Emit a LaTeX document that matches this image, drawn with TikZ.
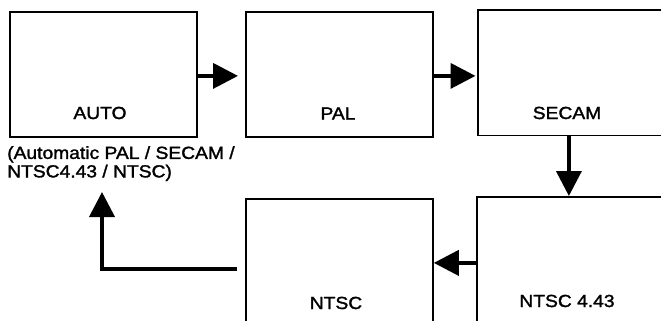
\documentclass[tikz,border=0pt]{standalone}
\usepackage{fontspec}
\setmainfont{Liberation Sans}[FakeStretch=1.1,FakeBold=1.6]
\usetikzlibrary{arrows.meta}
\begin{document}
\begin{tikzpicture}[x=1pt,y=-1pt,
  modebox/.style={draw,line width=1.8pt,minimum width=187pt,minimum height=125pt,inner sep=0pt,anchor=north west},
  modelabel/.style={anchor=base,inner sep=0pt,font=\fontsize{17.5}{19}\selectfont},
  arr/.style={line width=3.8pt,-{Triangle[length=25pt,width=25pt]}}]
\useasboundingbox (0,0) rectangle (661,321);
\clip (0,0) rectangle (661,321);
\node[modebox] (auto) at (9,11) {};
\node[modebox] (pal) at (245,11) {};
\node[modebox] (secam) at (477,9.5) {};
\node[modebox] (ntsc) at (245,198) {};
\node[modebox] (n443) at (476,196) {};
\node[modelabel] (autot) at (100,119) {AUTO};
\node[modelabel] (palt) at (338,119.5) {PAL};
\node[modelabel] (secamt) at (567,119) {SECAM};
\node[modelabel] (ntsct) at (336,309) {NTSC};
\node[modelabel] (n443t) at (567,307) {NTSC 4.43};
\node[anchor=north west,inner sep=0pt,align=left,font=\fontsize{17.5}{18.5}\selectfont] (cap) at (7,146) {(Automatic PAL / SECAM /\\NTSC4.43 / NTSC)};
\coordinate (tip) at (102,192);
\draw[arr,shorten >=7pt] ([yshift=-1.5pt]auto.east) -- ([yshift=-1.5pt]pal.west);
\draw[arr,shorten >=1.5pt] ([yshift=-1.5pt]pal.east) -- ([yshift=-3pt]secam.west);
\draw[arr] ([xshift=-2.5pt]secam.south) -- ([xshift=-1.5pt]n443.north);
\draw[arr] ([yshift=-3.5pt]n443.west) -- ([yshift=-1.5pt]ntsc.east);
\draw[arr] ([shift={(-8pt,-7.5pt)}]ntsc.west) -| (tip);
\end{tikzpicture}
\end{document}
